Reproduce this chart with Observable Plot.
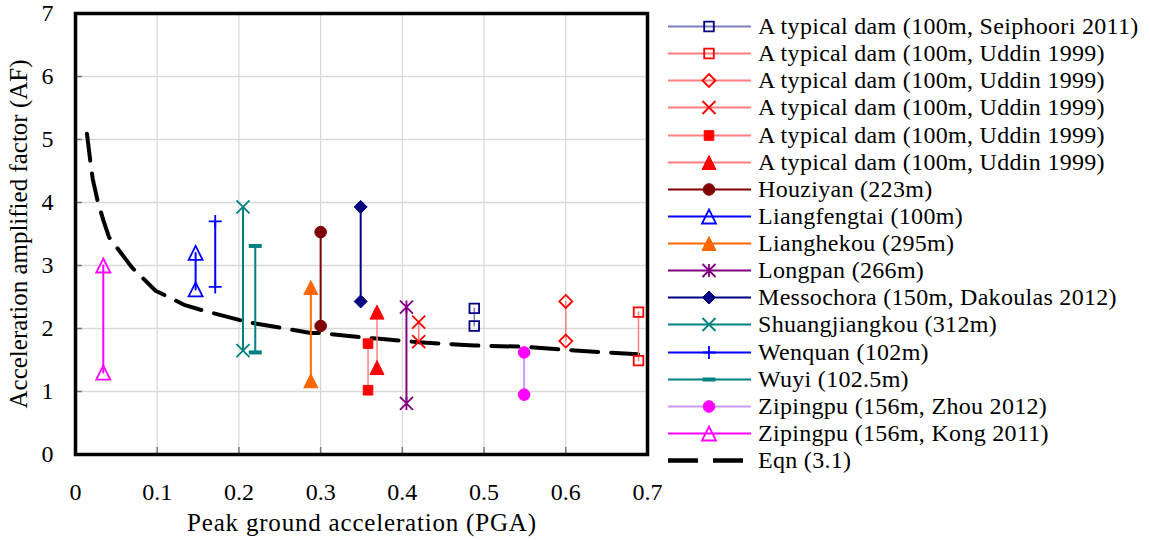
<!DOCTYPE html>
<html><head><meta charset="utf-8">
<script src="https://cdn.jsdelivr.net/npm/d3@7"></script>
<script src="https://cdn.jsdelivr.net/npm/@observablehq/plot@0.6"></script>
<style>
body{margin:0;background:#fff;font-family:'Liberation Serif','Times New Roman',serif;color:#000;}
#wrap{display:flex;width:1150px;height:541px;}
#chart{flex:none;width:668px;}
#legend{flex:none;padding-top:13px;}
.row{display:flex;align-items:center;height:27.14px;font-size:24px;letter-spacing:0.3px;white-space:nowrap;}
.row svg{flex:none;}
</style></head><body><div id="wrap"><div id="chart"></div><div id="legend"></div></div>
<script>
// ---- data ----
const seriesNames = [
  "A typical dam (100m, Seiphoori 2011)",
  "A typical dam (100m, Uddin 1999)",
  "A typical dam (100m, Uddin 1999)",
  "A typical dam (100m, Uddin 1999)",
  "A typical dam (100m, Uddin 1999)",
  "A typical dam (100m, Uddin 1999)",
  "Houziyan (223m)",
  "Liangfengtai (100m)",
  "Lianghekou (295m)",
  "Longpan (266m)",
  "Messochora (150m, Dakoulas 2012)",
  "Shuangjiangkou (312m)",
  "Wenquan (102m)",
  "Wuyi (102.5m)",
  "Zipingpu (156m, Zhou 2012)",
  "Zipingpu (156m, Kong 2011)"
];
const pga    = [0.488, 0.689, 0.600, 0.420, 0.358, 0.369, 0.300, 0.147, 0.288, 0.405, 0.349, 0.205, 0.171, 0.220, 0.549, 0.034];
const afHigh = [2.32, 2.26, 2.43, 2.10, 1.76, 2.26, 3.53, 3.20, 2.65, 2.34, 3.93, 3.93, 3.70, 3.31, 1.62, 3.00];
const afLow  = [2.04, 1.49, 1.80, 1.79, 1.02, 1.38, 2.04, 2.62, 1.17, 0.81, 2.43, 1.65, 2.66, 1.62, 0.95, 1.30];

const eqnName = "Eqn (3.1)";
const eqnPGA = [0.014, 0.018, 0.021, 0.027, 0.034, 0.041, 0.069, 0.098, 0.134, 0.155, 0.205, 0.220, 0.288, 0.300, 0.349, 0.369, 0.405, 0.420, 0.488, 0.549, 0.600, 0.689];
const eqnAF  = [5.09, 4.67, 4.38, 4.03, 3.72, 3.45, 2.97, 2.60, 2.37, 2.29, 2.12, 2.08, 1.93, 1.93, 1.86, 1.84, 1.80, 1.78, 1.73, 1.71, 1.66, 1.59];

const xTicks = [0, 0.1, 0.2, 0.3, 0.4, 0.5, 0.6, 0.7];
const xTickLabels = ["0", "0.1", "0.2", "0.3", "0.4", "0.5", "0.6", "0.7"];
const yTicks = [0, 1, 2, 3, 4, 5, 6, 7];
const yTickLabels = ["0", "1", "2", "3", "4", "5", "6", "7"];
const xTitle = "Peak ground acceleration (PGA)";
const yTitle = "Acceleration amplified factor (AF)";

// ---- styles ----
const styles = [
  {marker: "square",   open: true,  color: "#000080", line: "#7f7fbf", lw: 1.5},
  {marker: "square",   open: true,  color: "#ff0000", line: "#ff7f7f", lw: 1.5},
  {marker: "diamond",  open: true,  color: "#ff0000", line: "#ff7f7f", lw: 1.5},
  {marker: "times",    open: true,  color: "#ff0000", line: "#ff7f7f", lw: 1.5},
  {marker: "square",   open: false, color: "#ff0000", line: "#ff7f7f", lw: 1.5},
  {marker: "triangle", open: false, color: "#ff0000", line: "#ff7f7f", lw: 1.5},
  {marker: "circle",   open: false, color: "#800000", line: "#800000", lw: 2},
  {marker: "triangle", open: true,  color: "#0000ff", line: "#0000ff", lw: 2},
  {marker: "triangle", open: false, color: "#ff6600", line: "#ff6600", lw: 2},
  {marker: "star",     open: true,  color: "#800080", line: "#800080", lw: 2},
  {marker: "diamond",  open: false, color: "#000080", line: "#000080", lw: 2},
  {marker: "times",    open: true,  color: "#008080", line: "#008080", lw: 2},
  {marker: "plus",     open: true,  color: "#0000ff", line: "#0000ff", lw: 2},
  {marker: "dash",     open: false, color: "#008080", line: "#008080", lw: 2},
  {marker: "circle",   open: false, color: "#ff00ff", line: "#cc99ff", lw: 2},
  {marker: "triangle", open: true,  color: "#ff00ff", line: "#ff00ff", lw: 2}
];
const markerR = {square: 4.8, diamond: 6.5, triangle: 7, circle: 5.8, times: 6.5, star: 6.5, plus: 6.5, dash: 6.5};
const lineOnly = new Set(["times", "star", "plus"]);
const titleLength = 349;

const R = s => Math.sqrt(s / Math.PI);
const sym = {
  square:   {draw(c, s) { const r = R(s); c.rect(-r, -r, 2 * r, 2 * r); }},
  diamond:  {draw(c, s) { const r = R(s); c.moveTo(0, -r); c.lineTo(r, 0); c.lineTo(0, r); c.lineTo(-r, 0); c.closePath(); }},
  triangle: {draw(c, s) { const r = R(s); c.moveTo(0, -r); c.lineTo(r, r); c.lineTo(-r, r); c.closePath(); }},
  circle:   {draw(c, s) { const r = R(s); c.moveTo(r, 0); c.arc(0, 0, r, 0, 2 * Math.PI); }},
  times:    {draw(c, s) { const r = R(s); c.moveTo(-r, -r); c.lineTo(r, r); c.moveTo(r, -r); c.lineTo(-r, r); }},
  star:     {draw(c, s) { const r = R(s); c.moveTo(-r, -r); c.lineTo(r, r); c.moveTo(r, -r); c.lineTo(-r, r); c.moveTo(0, -r); c.lineTo(0, r); }},
  plus:     {draw(c, s) { const r = R(s); c.moveTo(-r, 0); c.lineTo(r, 0); c.moveTo(0, -r); c.lineTo(0, r); }},
  dash:     {draw(c, s) { const r = R(s); c.rect(-r, -2, 2 * r, 4); }}
};
function markerOpts(st) {
  const m = st.marker;
  if (lineOnly.has(m)) return {fill: "none", stroke: st.color, strokeWidth: 1.8};
  if (m === "dash") return {fill: st.color, stroke: "none"};
  if (st.open) return {fill: "none", stroke: st.color, strokeWidth: 1.8};
  return {fill: st.color, stroke: st.color, strokeWidth: 1};
}

// ---- table ----
const points = seriesNames.flatMap((n, i) => [
  {s: i, pga: pga[i], af: afHigh[i]},
  {s: i, pga: pga[i], af: afLow[i]}
]);
const eqn = eqnPGA.map((x, i) => ({pga: x, af: eqnAF[i]}));

const marks = [
  Plot.gridX(xTicks, {stroke: "#d0d0d0", strokeOpacity: 1, strokeWidth: 1}),
  Plot.gridY(yTicks, {stroke: "#d9d9d9", strokeOpacity: 1, strokeWidth: 1.5}),
  Plot.axisX(xTicks, {tickSize: -7, fill: "none", label: null, stroke: "#777", strokeWidth: 1.5}),
  Plot.axisY(yTicks, {tickSize: -7, fill: "none", label: null, stroke: "#777", strokeWidth: 1.5}),
  Plot.axisX(xTicks, {tickSize: 0, tickPadding: 28, label: null, fontSize: 24, tickFormat: d => xTickLabels[xTicks.indexOf(d)]}),
  Plot.axisY(yTicks, {tickSize: 0, tickPadding: 22, label: null, fontSize: 24, tickFormat: d => yTickLabels[yTicks.indexOf(d)]}),
  Plot.text([xTitle], {frameAnchor: "bottom", dy: 68, text: d => d, fontSize: 25, lineAnchor: "middle", textAnchor: "middle"}),
  Plot.text([yTitle], {frameAnchor: "left", dx: -57, rotate: -90, text: d => d, fontSize: 25, lineAnchor: "middle", textAnchor: "middle"}),
  Plot.line(eqn, {x: "pga", y: "af", stroke: "black", strokeWidth: 4, strokeDasharray: "27,13", curve: "linear"})
];
styles.forEach((st, i) => {
  const pts = points.filter(d => d.s === i);
  marks.push(Plot.line(pts, {x: "pga", y: "af", stroke: st.line, strokeWidth: st.lw}));
});
styles.forEach((st, i) => {
  const pts = points.filter(d => d.s === i);
  marks.push(Plot.dot(pts, {x: "pga", y: "af", symbol: sym[st.marker], r: markerR[st.marker], ...markerOpts(st)}));
});
marks.push(Plot.frame({stroke: "black", strokeWidth: 3.5}));

const chart = Plot.plot({
  width: 668, height: 541,
  marginLeft: 75, marginRight: 21, marginTop: 13, marginBottom: 87,
  x: {domain: [0, 0.7], axis: null},
  y: {domain: [0, 7], axis: null},
  style: {fontFamily: "'Liberation Serif','Times New Roman',serif", fontSize: "24px", color: "black", background: "white", overflow: "visible"},
  marks
});
document.getElementById("chart").appendChild(chart);
d3.select(chart).selectAll("text")
  .filter(function() { return this.textContent === xTitle || this.textContent === yTitle; })
  .attr("textLength", titleLength).attr("lengthAdjust", "spacing");

// ---- legend ----
const legend = d3.select("#legend");
styles.forEach((st, i) => {
  const row = legend.append("div").attr("class", "row");
  const svg = row.append("svg").attr("width", 90).attr("height", 27);
  svg.append("line").attr("x1", 0).attr("x2", 83).attr("y1", 13.5).attr("y2", 13.5)
    .attr("stroke", st.line).attr("stroke-width", 2);
  const o = markerOpts(st);
  const r = markerR[st.marker];
  svg.append("path").attr("transform", "translate(41,13.5)")
    .attr("d", d3.symbol(sym[st.marker], Math.PI * r * r)())
    .attr("fill", o.fill).attr("stroke", o.stroke).attr("stroke-width", o.strokeWidth || 0);
  row.append("span").text(seriesNames[i]);
});
{
  const row = legend.append("div").attr("class", "row");
  const svg = row.append("svg").attr("width", 90).attr("height", 27);
  svg.append("line").attr("x1", 0).attr("x2", 75).attr("y1", 13.5).attr("y2", 13.5)
    .attr("stroke", "black").attr("stroke-width", 4.3).attr("stroke-dasharray", "30,15");
  row.append("span").text(eqnName);
}
</script></body></html>
